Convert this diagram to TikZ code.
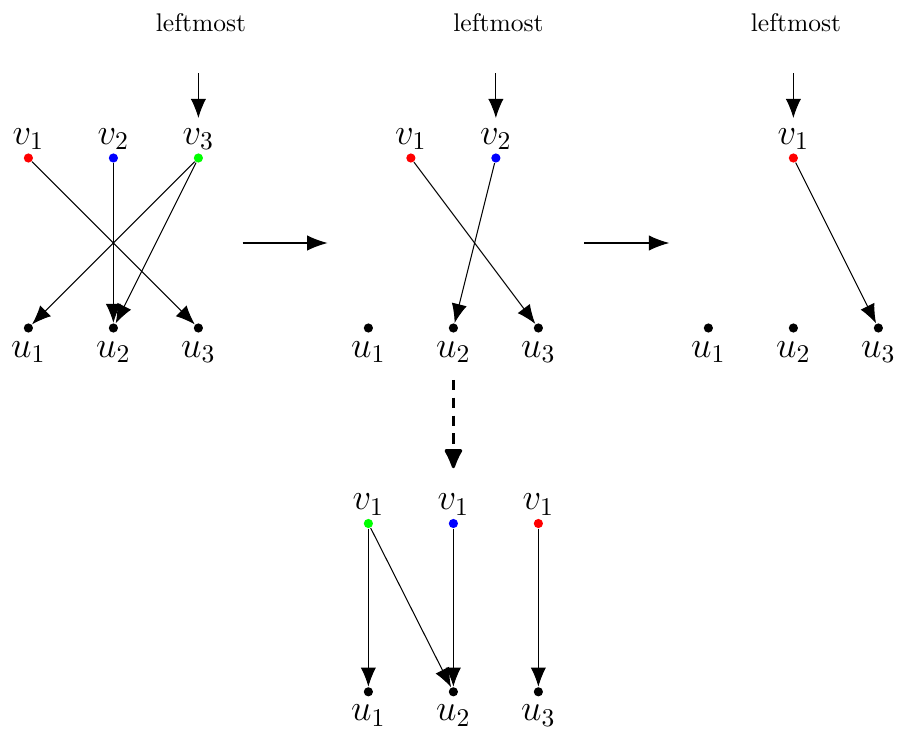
\documentclass[tikz,border=0pt]{standalone}
\usepackage{tikz}
\usetikzlibrary{arrows.meta}

\begin{document}
\begin{tikzpicture}[x=1.17cm,y=1.17cm,
  dot/.style={circle,fill=#1,inner sep=0pt,minimum size=3.6pt},
  dot/.default=black,
  vlab/.style={label={[font=\Large,inner sep=1pt]above:$#1$}},
  ulab/.style={label={[font=\Large,inner sep=3pt]below:$#1$}},
  edge/.style={-{Latex[length=7.5pt,width=6pt]}},
  stagearrow/.style={-{Latex[length=8pt,width=6pt]}},
  split/.style={-{Latex[length=9pt,width=8pt,round]},line width=1.2pt,
                dash pattern=on 4pt off 3pt}
]
\useasboundingbox (-0.334,-4.706) rectangle (10.231,3.859);
% first stage
\node[dot=red,vlab=v_1] (av1) at (0,2) {};
\node[dot=blue,vlab=v_2] (av2) at (1,2) {};
\node[dot=green,vlab=v_3] (av3) at (2,2) {};
\foreach \i in {1,2,3}
  \node[dot,ulab=u_\i] (au\i) at (\i-1,0) {};
\foreach \a/\b in {av1/au3,av2/au2,av3/au1,av3/au2}
  \draw[edge] (\a) -- (\b);
\node (lm1) at (2.03,3.59) {leftmost};
\coordinate (ta1) at (2,3.0);
\coordinate (tb1) at (2,2.47);
\draw[edge] (ta1) -- (tb1);
% second stage
\node[dot=red,vlab=v_1] (bv1) at (4.5,2) {};
\node[dot=blue,vlab=v_2] (bv2) at (5.5,2) {};
\foreach \i in {1,2,3}
  \node[dot,ulab=u_\i] (bu\i) at (\i+3,0) {};
\foreach \a/\b in {bv1/bu3,bv2/bu2}
  \draw[edge] (\a) -- (\b);
\node (lm2) at (5.53,3.59) {leftmost};
\coordinate (ta2) at (5.5,3.0);
\coordinate (tb2) at (5.5,2.47);
\draw[edge] (ta2) -- (tb2);
% third stage
\node[dot=red,vlab=v_1] (cv1) at (9,2) {};
\foreach \i in {1,2,3}
  \node[dot,ulab=u_\i] (cu\i) at (\i+7,0) {};
\draw[edge] (cv1) -- (cu3);
\node (lm3) at (9.03,3.59) {leftmost};
\coordinate (ta3) at (9,3.0);
\coordinate (tb3) at (9,2.47);
\draw[edge] (ta3) -- (tb3);
% arrows between stages
\coordinate (ha1) at (2.52,1);
\coordinate (hb1) at (3.52,1);
\coordinate (ha2) at (6.54,1);
\coordinate (hb2) at (7.54,1);
\draw[stagearrow] (ha1) -- (hb1);
\draw[stagearrow] (ha2) -- (hb2);
% split of u_2
\node[dot=green,vlab=v_1] (dv1) at (4,-2.3) {};
\node[dot=blue,vlab=v_1] (dv2) at (5,-2.3) {};
\node[dot=red,vlab=v_1] (dv3) at (6,-2.3) {};
\foreach \i in {1,2,3}
  \node[dot,ulab=u_\i] (du\i) at (\i+3,-4.28) {};
\foreach \a/\b in {dv1/du1,dv1/du2,dv2/du2,dv3/du3}
  \draw[edge] (\a) -- (\b);
\coordinate (sa) at (5,-0.61);
\coordinate (sb) at (5,-1.65);
\draw[split] (sa) -- (sb);
\end{tikzpicture}
\end{document}
